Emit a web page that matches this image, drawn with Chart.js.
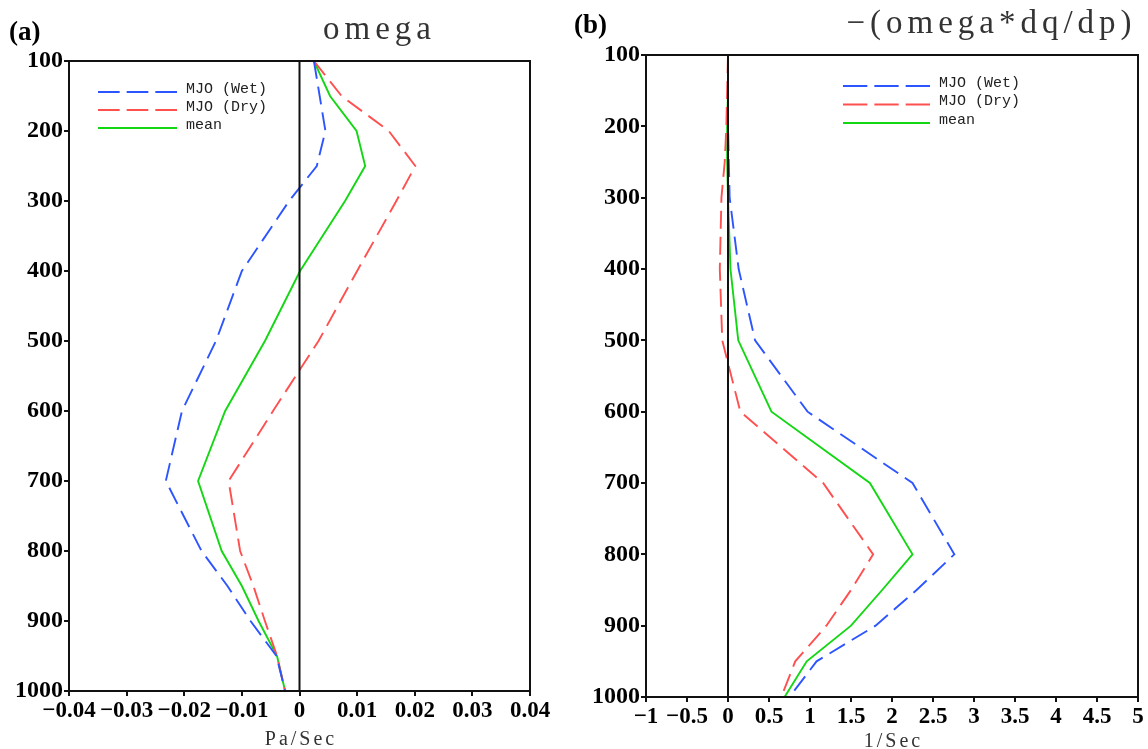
<!DOCTYPE html>
<html>
<head>
<meta charset="utf-8">
<script src="https://cdn.jsdelivr.net/npm/chart.js@4.4.0/dist/chart.umd.min.js"></script>
<style>
html, body { margin: 0; padding: 0; background: #fff; }
#marco { position: relative; width: 1148px; height: 749px; }
.panel { position: absolute; top: 0; width: 574px; height: 749px; }
</style>
</head>
<body>
<div id="marco">
  <div class="panel" style="left:0"><canvas id="canvasA" width="574" height="749"></canvas></div>
  <div class="panel" style="left:574px"><canvas id="canvasB" width="574" height="749"></canvas></div>
</div>
<script>
// niveles de presion (hPa)
const niveles = [100, 150, 200, 250, 300, 400, 500, 600, 700, 800, 850, 900, 950, 1000];

// panel (a): omega, Pa/Sec
const omegaWet  = [0.0025, 0.0035, 0.0045, 0.003, -0.0018, -0.010, -0.0145, -0.0204, -0.0232, -0.017, -0.0125, -0.0085, -0.004, -0.0025];
const omegaDry  = [0.0025, 0.0073, 0.0155, 0.0201, 0.0168, 0.010, 0.0033, -0.0046, -0.0123, -0.0103, -0.008, -0.006, -0.0039, -0.0025];
const omegaMean = [0.0025, 0.0053, 0.0099, 0.0114, 0.0079, 0.0001, -0.006, -0.0129, -0.0176, -0.0135, -0.010, -0.0071, -0.0039, -0.0025];

// panel (b): -(omega*dq/dp), 1/Sec
const advWet  = [0, 0, 0, 0.01, 0.02, 0.13, 0.33, 0.97, 2.25, 2.76, 2.30, 1.80, 1.08, 0.75];
const advDry  = [0, -0.01, -0.02, -0.04, -0.08, -0.10, -0.07, 0.15, 1.16, 1.77, 1.50, 1.20, 0.82, 0.65];
const advMean = [0, 0, -0.01, -0.01, 0, 0.03, 0.125, 0.53, 1.73, 2.25, 1.88, 1.50, 0.96, 0.69];

const etiquetas = ['MJO (Wet)', 'MJO (Dry)', 'mean'];
const ticksXa = [-0.04, -0.03, -0.02, -0.01, 0, 0.01, 0.02, 0.03, 0.04];
const ticksXb = [-1, -0.5, 0, 0.5, 1, 1.5, 2, 2.5, 3, 3.5, 4, 4.5, 5];
const ticksY = [100, 200, 300, 400, 500, 600, 700, 800, 900, 1000];

const AZUL = 'rgb(45, 85, 255)';
const ROJO = 'rgb(255, 80, 80)';
const VERDE = 'rgb(20, 215, 20)';

function serie(label, valores, color, guiones) {
    return {
        label: label,
        data: niveles.map((p, i) => ({ x: valores[i], y: p })),
        showLine: true,
        borderColor: color,
        backgroundColor: color,
        borderWidth: 1.9,
        borderDash: guiones,
        pointRadius: 0,
        tension: 0,
        fill: false
    };
}

function formatoTick(v) {
    if (v === 0) return '0';
    return (v < 0 ? '\u2212' : '') + String(Math.abs(v));
}

const decoracion = {
    id: 'decoracion',
    afterDatasetsDraw(chart, args, o) {
        const ctx = chart.ctx;
        const ca = chart.chartArea;
        ctx.save();
        // linea del cero
        const x0 = chart.scales.x.getPixelForValue(0);
        ctx.strokeStyle = '#111';
        ctx.lineWidth = 2;
        ctx.setLineDash([]);
        ctx.beginPath();
        ctx.moveTo(x0, ca.top);
        ctx.lineTo(x0, ca.bottom);
        ctx.stroke();
        // marco
        ctx.strokeRect(ca.left, ca.top, ca.right - ca.left, ca.bottom - ca.top);

        // leyenda: tres guiones completos por linea
        chart.data.datasets.forEach((ds, i) => {
            const y = o.leyY + i * o.leyPaso;
            ctx.strokeStyle = ds.borderColor;
            ctx.lineWidth = 2;
            if (ds.borderDash && ds.borderDash.length) {
                const hueco = 7;
                ctx.setLineDash([(o.leyLargo - 2 * hueco) / 3, hueco]);
            } else {
                ctx.setLineDash([]);
            }
            ctx.beginPath();
            ctx.moveTo(o.leyX, y);
            ctx.lineTo(o.leyX + o.leyLargo, y);
            ctx.stroke();
            ctx.setLineDash([]);
            ctx.fillStyle = '#222';
            ctx.font = '15px "Liberation Mono", monospace';
            ctx.textAlign = 'left';
            ctx.textBaseline = 'middle';
            ctx.fillText(ds.label, o.leyX + o.leyLargo + 9, y - 3);
        });

        // textos
        ctx.fillStyle = '#000';
        ctx.font = 'bold 27px "Liberation Serif", serif';
        ctx.textAlign = 'left';
        ctx.textBaseline = 'alphabetic';
        ctx.fillText(o.letra, o.letraX, o.letraY);

        ctx.fillStyle = '#333';
        ctx.font = '33px "Liberation Serif", serif';
        ctx.letterSpacing = '5px';
        const w = ctx.measureText(o.titulo).width - 5;
        ctx.fillText(o.titulo, o.tituloX - w / 2, o.tituloY);

        ctx.font = '20px "Liberation Serif", serif';
        ctx.letterSpacing = '3px';
        const w2 = ctx.measureText(o.ejeX).width - 3;
        ctx.fillText(o.ejeX, (ca.left + ca.right) / 2 - w2 / 2, o.ejeXY);
        ctx.letterSpacing = '0px';
        ctx.restore();
    }
};

function crearPanel(idCanvas, series, ticksX, xMin, xMax, pad, anchoY, altoX, deco) {
    const ctx = document.getElementById(idCanvas).getContext('2d');
    return new Chart(ctx, {
        type: 'scatter',
        data: { datasets: series },
        options: {
            responsive: false,
            animation: false,
            layout: { padding: pad },
            plugins: {
                legend: { display: false },
                tooltip: { enabled: false },
                decoracion: deco
            },
            scales: {
                x: {
                    type: 'linear',
                    min: xMin,
                    max: xMax,
                    afterBuildTicks: (s) => { s.ticks = ticksX.map(v => ({ value: v })); },
                    afterFit: (s) => { s.height = altoX; },
                    border: { display: false },
                    grid: { display: true, drawOnChartArea: false, drawTicks: true, tickLength: 5, color: '#111', lineWidth: 2 },
                    ticks: {
                        autoSkip: false,
                        maxRotation: 0,
                        padding: 1,
                        color: '#000',
                        font: { family: '"Liberation Serif", serif', weight: 'bold', size: 23 },
                        callback: (v) => formatoTick(v)
                    }
                },
                y: {
                    type: 'linear',
                    reverse: true,
                    min: 100,
                    max: 1000,
                    afterBuildTicks: (s) => { s.ticks = ticksY.map(v => ({ value: v })); },
                    afterFit: (s) => { s.width = anchoY; },
                    border: { display: false },
                    grid: { display: true, drawOnChartArea: false, drawTicks: true, tickLength: 5, color: '#111', lineWidth: 2 },
                    ticks: {
                        autoSkip: false,
                        padding: 1,
                        color: '#000',
                        font: { family: '"Liberation Serif", serif', weight: 'bold', size: 24 },
                        callback: (v) => String(v)
                    }
                }
            }
        },
        plugins: [decoracion]
    });
}

crearPanel('canvasA', [
    serie(etiquetas[0], omegaWet, AZUL, [18, 8]),
    serie(etiquetas[1], omegaDry, ROJO, [18, 8]),
    serie(etiquetas[2], omegaMean, VERDE, [])
], ticksXa, -0.04, 0.04, { left: 0, top: 61, right: 44, bottom: 0 }, 69, 58, {
    letra: '(a)', letraX: 9, letraY: 40,
    titulo: 'omega', tituloX: 377, tituloY: 39,
    ejeX: 'Pa/Sec', ejeXY: 745,
    leyX: 98, leyY: 92, leyPaso: 18, leyLargo: 79
});

crearPanel('canvasB', [
    serie(etiquetas[0], advWet, AZUL, [18, 8]),
    serie(etiquetas[1], advDry, ROJO, [18, 8]),
    serie(etiquetas[2], advMean, VERDE, [])
], ticksXb, -1, 5, { left: 0, top: 55, right: 10, bottom: 0 }, 72, 52, {
    letra: '(b)', letraX: 0, letraY: 33,
    titulo: '\u2212(omega*dq/dp)', tituloX: 415, tituloY: 33,
    ejeX: '1/Sec', ejeXY: 747,
    leyX: 269, leyY: 86, leyPaso: 18.5, leyLargo: 87
});
</script>
</body>
</html>
